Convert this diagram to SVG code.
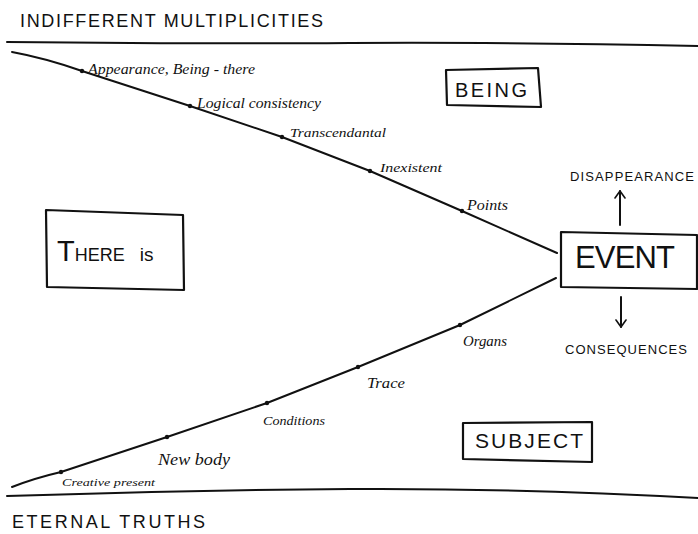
<svg xmlns="http://www.w3.org/2000/svg" width="698" height="534" viewBox="0 0 698 534">
<style>
.caps{font-family:"Liberation Sans",Arial,sans-serif;fill:#111;}
.hand{font-family:"Liberation Serif","Times New Roman",serif;font-style:italic;fill:#111;}
.ln{fill:none;stroke:#111;stroke-width:2;stroke-linecap:round;stroke-linejoin:round;}
.box{fill:none;stroke:#111;stroke-width:2.2;stroke-linejoin:round;}
.dot{fill:#111;}
</style>
<defs>
<marker id="arr" viewBox="0 0 12 12" refX="10" refY="6" markerWidth="12" markerHeight="12" markerUnits="userSpaceOnUse" orient="auto">
<path d="M3,1 L10,6 L3,11" fill="none" stroke="#111" stroke-width="1.6" stroke-linecap="round" stroke-linejoin="round"/>
</marker>
</defs>
<rect width="698" height="534" fill="#fff"/>

<g id="title-top">
<text class="caps" x="20" y="27" font-size="18" textLength="303" lengthAdjust="spacing">INDIFFERENT  MULTIPLICITIES</text>
</g>
<g id="title-bottom">
<text class="caps" x="12" y="528" font-size="18" textLength="193" lengthAdjust="spacing">ETERNAL  TRUTHS</text>
</g>

<g id="connectors">
<path class="ln" d="M7,42 Q200,44 350,43 T698,46"/>
<path class="ln" d="M7,496 Q180,490 350,489 T698,498"/>
<path class="ln" d="M12,52 Q45,58 82,71 L190,106 L282,137 L370,171 L462,211 L557,253"/>
<path class="ln" d="M12,487 Q35,478 61,472 L167,437 L267,403 L358,367 L460,325 L556,278"/>
<path class="ln" d="M620,225 L620,191" marker-end="url(#arr)"/>
<path class="ln" d="M621,297 L621,327" marker-end="url(#arr)"/>
</g>

<g id="dots">
<circle class="dot" cx="82" cy="71" r="2.2"/>
<circle class="dot" cx="190" cy="106" r="2.2"/>
<circle class="dot" cx="282" cy="137" r="2.2"/>
<circle class="dot" cx="370" cy="171" r="2.2"/>
<circle class="dot" cx="462" cy="211" r="2.2"/>
<circle class="dot" cx="61" cy="472" r="2.2"/>
<circle class="dot" cx="167" cy="437" r="2.2"/>
<circle class="dot" cx="267" cy="403" r="2.2"/>
<circle class="dot" cx="358" cy="367" r="2.2"/>
<circle class="dot" cx="460" cy="325" r="2.2"/>
</g>

<g id="labels-being">
<text class="hand" x="88" y="74" font-size="14" textLength="167" lengthAdjust="spacingAndGlyphs">Appearance, Being - there</text>
<text class="hand" x="197" y="108" font-size="14" textLength="124" lengthAdjust="spacingAndGlyphs">Logical consistency</text>
<text class="hand" x="290" y="137" font-size="13" textLength="96" lengthAdjust="spacingAndGlyphs">Transcendantal</text>
<text class="hand" x="380" y="172" font-size="13" textLength="62" lengthAdjust="spacingAndGlyphs">Inexistent</text>
<text class="hand" x="467" y="210" font-size="14" textLength="41" lengthAdjust="spacingAndGlyphs">Points</text>
</g>

<g id="labels-subject">
<text class="hand" x="463" y="346" font-size="14" textLength="44" lengthAdjust="spacingAndGlyphs">Organs</text>
<text class="hand" x="367" y="388" font-size="14" textLength="38" lengthAdjust="spacingAndGlyphs">Trace</text>
<text class="hand" x="263" y="425" font-size="13" textLength="62" lengthAdjust="spacingAndGlyphs">Conditions</text>
<text class="hand" x="158" y="465" font-size="16" textLength="72" lengthAdjust="spacingAndGlyphs">New body</text>
<text class="hand" x="62" y="486" font-size="11" textLength="93" lengthAdjust="spacingAndGlyphs">Creative present</text>
</g>

<g id="node-there-is">
<polygon class="box" points="46,210 183,215 184,290 47,287"/>
<text class="caps" x="57" y="261"><tspan font-size="29">T</tspan><tspan font-size="18">HERE</tspan><tspan font-size="19" dx="15">is</tspan></text>
</g>

<g id="node-being">
<polygon class="box" points="446,70 538,68 541,107 447,105"/>
<text class="caps" x="455" y="97" font-size="20" textLength="72" lengthAdjust="spacing">BEING</text>
</g>

<g id="node-event">
<polygon class="box" points="561,232 697,235 697,289 561,287"/>
<text class="caps" x="575" y="268" font-size="31" textLength="100" lengthAdjust="spacing">EVENT</text>
</g>

<g id="node-subject">
<polygon class="box" points="463,423 592,422 592,462 463,459"/>
<text class="caps" x="475" y="448" font-size="21" textLength="108" lengthAdjust="spacing">SUBJECT</text>
</g>

<g id="node-disappearance">
<text class="caps" x="570" y="181" font-size="13" textLength="124" lengthAdjust="spacing">DISAPPEARANCE</text>
</g>

<g id="node-consequences">
<text class="caps" x="565" y="354" font-size="13" textLength="122" lengthAdjust="spacing">CONSEQUENCES</text>
</g>
</svg>
